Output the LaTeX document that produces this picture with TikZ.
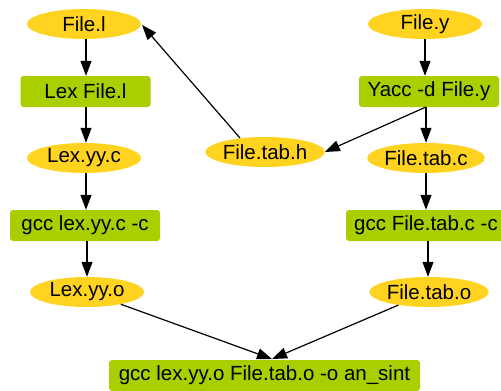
\documentclass[tikz,border=0pt]{standalone}
\usepackage{fontspec}
\setmainfont{Liberation Sans}
\usetikzlibrary{shapes.geometric,arrows.meta}
\definecolor{fileyellow}{HTML}{FFD320}
\definecolor{stepgreen}{HTML}{AACF00}
\tikzset{
  filenode/.style={ellipse,fill=fileyellow,draw=none,minimum width=114pt,minimum height=30pt,inner sep=0pt,font=\fontsize{20.5}{24}\selectfont},
  cmdnode/.style={rectangle,rounded corners=3pt,fill=stepgreen,draw=none,minimum height=31pt,inner sep=0pt,font=\fontsize{20.5}{24}\selectfont},
  flow/.style={draw=black,line width=1.2pt,-{Triangle[length=15pt,width=11pt]}}
}
\begin{document}
\begin{tikzpicture}[x=1pt,y=-1pt]
\useasboundingbox (0,0) rectangle (501,391);
\clip (0,0) rectangle (501,391);
% left column
\node[filenode] (fl) at (84,24) {File.l};
\node[cmdnode,minimum width=130pt] (lex) at (85.5,91.5) {Lex File.l};
\node[filenode] (lyc) at (84,158) {Lex.yy.c};
\node[cmdnode,minimum width=150pt] (gccl) at (85,225.5) {gcc lex.yy.c -c};
\node[filenode] (lyo) at (87,292) {Lex.yy.o};
% right column
\node[filenode] (fy) at (425,24) {File.y};
\node[cmdnode,minimum width=140pt] (yacc) at (429,91.5) {Yacc -d File.y};
\node[filenode] (fth) at (265,152) {File.tab.h};
\node[filenode] (ftc) at (426,158) {File.tab.c};
\node[cmdnode,minimum width=160pt] (gccy) at (426,225.5) {gcc File.tab.c -c};
\node[filenode] (fto) at (429,292) {File.tab.o};
% bottom
\node[cmdnode,minimum width=311pt] (link) at (264.5,375.5) {gcc lex.yy.o File.tab.o -o an\_sint};
\coordinate (meet) at (272,359);
\coordinate (yaccout) at (426,107);
\coordinate (fthout) at (240,138);
\coordinate (flin) at (142,25);
% edges
\draw[flow] ([xshift=2pt]fl.south) -- ([xshift=2pt]fl.south |- lex.north);
\draw[flow] ([xshift=2pt]lyc.north |- lex.south) -- ([xshift=2pt]lyc.north);
\draw[flow] ([xshift=2pt]lyc.south) -- ([xshift=2pt]lyc.south |- gccl.north);
\draw[flow] (lyo.north |- gccl.south) -- (lyo.north);
\draw[flow] (fy.south) -- (fy.south |- yacc.north);
\draw[flow] (ftc.north |- yacc.south) -- (ftc.north);
\draw[flow] (yaccout) -- (fth.east);
\draw[flow] (fthout) -- (flin);
\draw[flow] (ftc.south) -- (ftc.south |- gccy.north);
\draw[flow] ([xshift=2pt]gccy.south) -- ([xshift=2pt]gccy.south |- fto.north);
\draw[flow] (lyo) -- (meet);
\draw[flow] (fto) -- (meet);
\end{tikzpicture}
\end{document}
